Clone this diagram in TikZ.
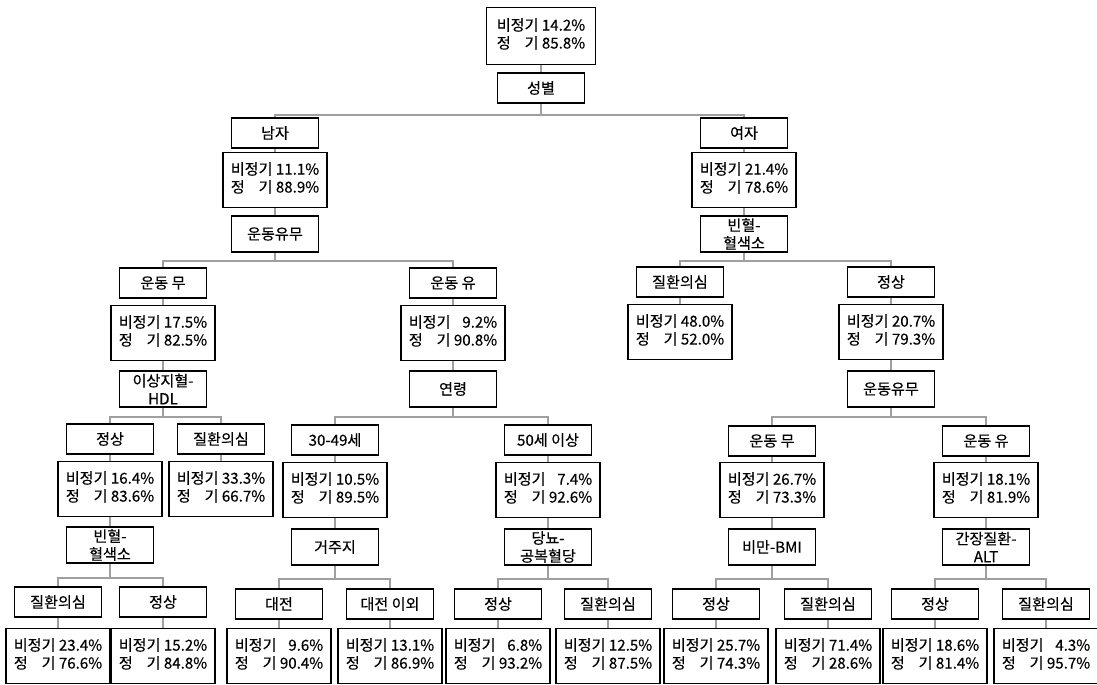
\documentclass[tikz,border=0pt]{standalone}
\usepackage{fontspec}
\setmainfont{Noto Sans CJK KR}[FakeBold=0.35]

% two rows of rates inside a box
\newcommand{\splitrate}[2]{\begin{tabular}{@{}l@{\ }r@{}}비정기 & #1\\ 정\hfill 기 & #2\end{tabular}}

\begin{document}
\begin{tikzpicture}[x=0.02cm, y=-0.02cm,
    every node/.style={font=\fontsize{8.6}{10.2}\selectfont},
    catbox/.style={draw, line width=1.1pt, minimum width=1.74cm, minimum height=0.6cm, inner sep=1pt, align=center},
    tallbox/.style={catbox, minimum height=0.72cm},
    ratebox/.style={draw, line width=1.1pt, minimum width=2.08cm, minimum height=1.1cm, inner sep=1pt},
    link/.style={draw=gray!75, line width=0.8pt}]
    \useasboundingbox (0,0) rectangle (1097,684);

    % Define root
    \node[ratebox, minimum width=2.18cm, minimum height=1.14cm] (r0) at (541,36) {\splitrate{14.2\%}{85.8\%}};
    \node[catbox] (sex) at (541,88) {성별};

    % Male side
    \node[catbox] (male) at (275,133) {남자};
    \node[ratebox] (maleR) at (275,180) {\splitrate{11.1\%}{88.9\%}};
    \node[tallbox] (mEx) at (275,234) {운동유무};

    \node[catbox] (mNo) at (163,283) {운동 무};
    \node[ratebox] (mNoR) at (163,333) {\splitrate{17.5\%}{82.5\%}};
    \node[tallbox] (hdl) at (163,389) {이상지혈-\\HDL};

    \node[catbox] (hdlOk) at (110,439) {정상};
    \node[ratebox] (hdlOkR) at (110,489) {\splitrate{16.4\%}{83.6\%}};
    \node[tallbox] (mHb) at (110,545) {빈혈-\\혈색소};
    \node[catbox] (hdlBad) at (221,439) {질환의심};
    \node[ratebox] (hdlBadR) at (221,489) {\splitrate{33.3\%}{66.7\%}};

    \node[catbox] (hbBad) at (58,602) {질환의심};
    \node[ratebox] (hbBadR) at (58,656) {\splitrate{23.4\%}{76.6\%}};
    \node[catbox] (hbOk) at (163,602) {정상};
    \node[ratebox] (hbOkR) at (163,656) {\splitrate{15.2\%}{84.8\%}};

    \node[catbox] (mYes) at (453,283) {운동 유};
    \node[ratebox] (mYesR) at (453,333) {\splitrate{9.2\%}{90.8\%}};
    \node[tallbox] (age) at (453,389) {연령};

    \node[catbox] (a30) at (335,440) {30-49세};
    \node[ratebox] (a30R) at (335,490) {\splitrate{10.5\%}{89.5\%}};
    \node[tallbox] (home) at (335,547) {거주지};
    \node[catbox] (dj) at (279,604) {대전};
    \node[ratebox] (djR) at (279,656) {\splitrate{9.6\%}{90.4\%}};
    \node[catbox] (djOut) at (390,604) {대전 이외};
    \node[ratebox] (djOutR) at (390,656) {\splitrate{13.1\%}{86.9\%}};

    \node[catbox] (a50) at (548,440) {50세 이상};
    \node[ratebox] (a50R) at (548,490) {\splitrate{7.4\%}{92.6\%}};
    \node[tallbox] (glu) at (548,547) {당뇨-\\공복혈당};
    \node[catbox] (gluOk) at (498,604) {정상};
    \node[ratebox] (gluOkR) at (498,656) {\splitrate{6.8\%}{93.2\%}};
    \node[catbox] (gluBad) at (608,604) {질환의심};
    \node[ratebox] (gluBadR) at (608,656) {\splitrate{12.5\%}{87.5\%}};

    % Female side
    \node[catbox] (female) at (744,133) {여자};
    \node[ratebox] (femaleR) at (744,180) {\splitrate{21.4\%}{78.6\%}};
    \node[tallbox] (fHb) at (744,234) {빈혈-\\혈색소};

    \node[catbox] (fHbBad) at (680,282) {질환의심};
    \node[ratebox] (fHbBadR) at (680,332) {\splitrate{48.0\%}{52.0\%}};
    \node[catbox] (fHbOk) at (891,282) {정상};
    \node[ratebox] (fHbOkR) at (891,332) {\splitrate{20.7\%}{79.3\%}};
    \node[tallbox] (fEx) at (891,389) {운동유무};

    \node[catbox] (fNo) at (772,441) {운동 무};
    \node[ratebox] (fNoR) at (772,490) {\splitrate{26.7\%}{73.3\%}};
    \node[tallbox] (bmi) at (772,547) {비만-BMI};
    \node[catbox] (bmiOk) at (716,604) {정상};
    \node[ratebox] (bmiOkR) at (716,656) {\splitrate{25.7\%}{74.3\%}};
    \node[catbox] (bmiBad) at (828,604) {질환의심};
    \node[ratebox] (bmiBadR) at (828,656) {\splitrate{71.4\%}{28.6\%}};

    \node[catbox] (fYes) at (986,441) {운동 유};
    \node[ratebox] (fYesR) at (986,490) {\splitrate{18.1\%}{81.9\%}};
    \node[tallbox] (alt) at (986,547) {간장질환-\\ALT};
    \node[catbox] (altOk) at (935,604) {정상};
    \node[ratebox] (altOkR) at (935,656) {\splitrate{18.6\%}{81.4\%}};
    \node[catbox] (altBad) at (1046,604) {질환의심};
    \node[ratebox] (altBadR) at (1046,656) {\splitrate{4.3\%}{95.7\%}};

    % Straight links
    \draw[link] (r0) -- (sex);
    \draw[link] (male) -- (maleR);
    \draw[link] (maleR) -- (mEx);
    \draw[link] (mNo) -- (mNoR);
    \draw[link] (mNoR) -- (hdl);
    \draw[link] (hdlOk) -- (hdlOkR);
    \draw[link] (hdlOkR) -- (mHb);
    \draw[link] (hdlBad) -- (hdlBadR);
    \draw[link] (hbBad) -- (hbBadR);
    \draw[link] (hbOk) -- (hbOkR);
    \draw[link] (mYes) -- (mYesR);
    \draw[link] (mYesR) -- (age);
    \draw[link] (a30) -- (a30R);
    \draw[link] (a30R) -- (home);
    \draw[link] (dj) -- (djR);
    \draw[link] (djOut) -- (djOutR);
    \draw[link] (a50) -- (a50R);
    \draw[link] (a50R) -- (glu);
    \draw[link] (gluOk) -- (gluOkR);
    \draw[link] (gluBad) -- (gluBadR);
    \draw[link] (female) -- (femaleR);
    \draw[link] (femaleR) -- (fHb);
    \draw[link] (fHbBad) -- (fHbBadR);
    \draw[link] (fHbOk) -- (fHbOkR);
    \draw[link] (fHbOkR) -- (fEx);
    \draw[link] (fNo) -- (fNoR);
    \draw[link] (fNoR) -- (bmi);
    \draw[link] (bmiOk) -- (bmiOkR);
    \draw[link] (bmiBad) -- (bmiBadR);
    \draw[link] (fYes) -- (fYesR);
    \draw[link] (fYesR) -- (alt);
    \draw[link] (altOk) -- (altOkR);
    \draw[link] (altBad) -- (altBadR);

    % Split links
    \draw[link] (sex.south) -- ++(0,11) -| (male.north);
    \draw[link] (sex.south) -- ++(0,11) -| (female.north);
    \draw[link] (mEx.south) -- ++(0,8) -| (mNo.north);
    \draw[link] (mEx.south) -- ++(0,8) -| (mYes.north);
    \draw[link] (hdl.south) -- ++(0,9) -| (hdlOk.north);
    \draw[link] (hdl.south) -- ++(0,9) -| (hdlBad.north);
    \draw[link] (mHb.south) -- ++(0,14) -| (hbBad.north);
    \draw[link] (mHb.south) -- ++(0,14) -| (hbOk.north);
    \draw[link] (age.south) -- ++(0,9) -| (a30.north);
    \draw[link] (age.south) -- ++(0,9) -| (a50.north);
    \draw[link] (home.south) -- ++(0,13) -| (dj.north);
    \draw[link] (home.south) -- ++(0,13) -| (djOut.north);
    \draw[link] (glu.south) -- ++(0,13) -| (gluOk.north);
    \draw[link] (glu.south) -- ++(0,13) -| (gluBad.north);
    \draw[link] (fHb.south) -- ++(0,8) -| (fHbBad.north);
    \draw[link] (fHb.south) -- ++(0,8) -| (fHbOk.north);
    \draw[link] (fEx.south) -- ++(0,9) -| (fNo.north);
    \draw[link] (fEx.south) -- ++(0,9) -| (fYes.north);
    \draw[link] (bmi.south) -- ++(0,13) -| (bmiOk.north);
    \draw[link] (bmi.south) -- ++(0,13) -| (bmiBad.north);
    \draw[link] (alt.south) -- ++(0,13) -| (altOk.north);
    \draw[link] (alt.south) -- ++(0,13) -| (altBad.north);
\end{tikzpicture}
\end{document}
